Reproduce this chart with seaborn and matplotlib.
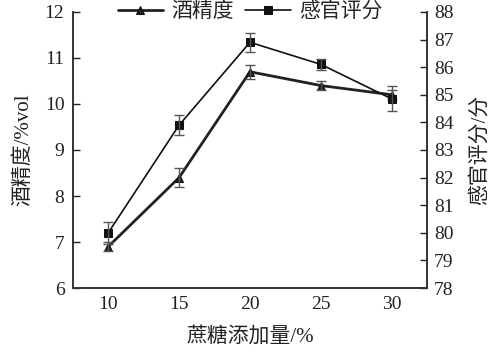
import matplotlib
matplotlib.use("Agg")
import matplotlib.pyplot as plt
import seaborn as sns
import pandas as pd

# 蔗糖添加量对酒精度和感官评分的影响
sugar = [10, 15, 20, 25, 30]
alcohol = [6.9, 8.4, 10.7, 10.4, 10.2]
alcohol_err = [0.1, 0.2, 0.15, 0.1, 0.1]
score = [80.0, 83.9, 86.9, 86.1, 84.85]
score_err = [0.4, 0.35, 0.35, 0.2, 0.45]

sns.set_style("white")
plt.rcParams['font.family'] = ['Liberation Serif', 'Noto Sans CJK SC']
plt.rcParams['axes.unicode_minus'] = False

df = pd.DataFrame({"sugar": sugar, "alcohol": alcohol, "score": score})

fig = plt.figure(figsize=(4.95, 3.61), dpi=100)
ax = fig.add_axes([0.147, 0.202, 0.716, 0.765])
ax2 = ax.twinx()

sns.lineplot(data=df, x="sugar", y="alcohol", ax=ax, color="#222222", lw=2.0,
             marker="^", markersize=6, markeredgecolor="#111111", label="酒精度", legend=False)
ax.errorbar(sugar, alcohol, yerr=alcohol_err, fmt="none", ecolor="#555555",
            elinewidth=1, capsize=3.5)

sns.lineplot(data=df, x="sugar", y="score", ax=ax2, color="#111111", lw=1.2,
             marker="s", markersize=5.5, markeredgecolor="#111111", label="感官评分", legend=False)
ax2.errorbar(sugar, score, yerr=score_err, fmt="none", ecolor="#555555",
             elinewidth=1, capsize=3.5)

ax.set_xlim(7.5, 32.5)
ax.set_ylim(6, 12)
ax2.set_ylim(78, 88)
ax.set_xticks(sugar)
ax.set_yticks(range(6, 13))
ax2.set_yticks(range(78, 89))

for a in (ax, ax2):
    a.spines['top'].set_visible(False)
    for s in a.spines.values():
        s.set_color("#333333")
        s.set_linewidth(1.2)
ax.tick_params(axis='both', direction='in', length=5, width=1, labelsize=14,
               colors="#222222", pad=6)
ax2.tick_params(axis='y', direction='in', length=5, width=1, labelsize=14,
                colors="#222222", pad=5)
ax.tick_params(axis='y', right=False)

ax.set_xlabel("蔗糖添加量/%", fontsize=15, color="#222222", labelpad=10)
ax.set_ylabel("酒精度/%vol", fontsize=15, color="#222222", labelpad=8)
ax2.set_ylabel("感官评分/分", fontsize=15, color="#222222", labelpad=12)

h1, l1 = ax.get_legend_handles_labels()
h2, l2 = ax2.get_legend_handles_labels()
leg = ax2.legend(h1 + h2, l1 + l2, loc="center", bbox_to_anchor=(0.5, 1.0), ncol=2,
                 frameon=True, fontsize=15, handlelength=2.2, columnspacing=0.5,
                 handletextpad=0.4, borderpad=0.1)
leg.get_frame().set_edgecolor("white")
leg.get_frame().set_facecolor("white")
leg.get_frame().set_alpha(1)

fig.savefig("out.png", dpi=100)
